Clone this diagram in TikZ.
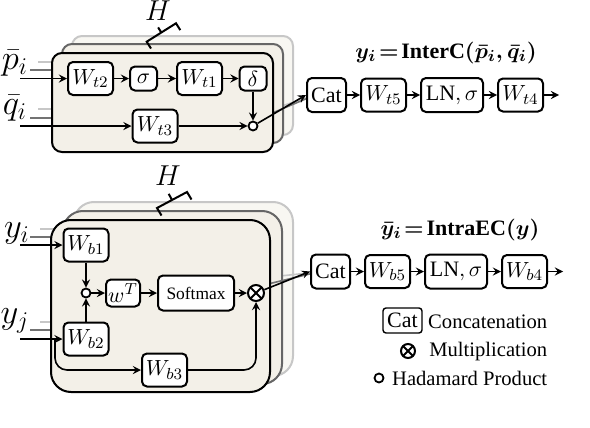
\documentclass[tikz,border=0pt]{standalone}
\usepackage{amsmath}
\usepackage{fontspec}
\setmainfont{Liberation Serif}
\usetikzlibrary{positioning}
\usetikzlibrary{calc}
\definecolor{panelfill}{HTML}{F3F0E8}
\tikzset{
    % Arrow heads as in the other figures
    >=stealth,
%
    % Rounded boxes holding one layer each
    block/.style={draw, line width=1pt, rounded corners=2.5pt, fill=white,
        inner sep=0pt, minimum height=16.5pt},
    wbox/.style={block, minimum width=22.5pt},
    tiny box/.style={block, minimum width=13.5pt, minimum height=12pt},
    cat box/.style={block, minimum width=19.5pt, minimum height=17pt},
%
    % The three stacked heads
    panel/.style={draw, line width=1pt, fill=panelfill},
    mid panel/.style={panel, draw=black!60},
    far panel/.style={panel, draw=black!22, fill=panelfill!55},
    ghost line/.style={line width=0.8pt, draw=black!55},
    far line/.style={line width=0.8pt, draw=black!22},
%
    % Hadamard product and multiplication symbols
    hadamard/.style={circle, draw, line width=0.9pt, fill=white,
        inner sep=0pt, minimum size=4.5pt},
    mult/.style={circle, draw, line width=1pt, fill=white, inner sep=0pt,
        minimum size=8pt,
        path picture={\draw[line width=1pt]
            (path picture bounding box.north west) -- (path picture bounding box.south east)
            (path picture bounding box.north east) -- (path picture bounding box.south west);}},
%
    in label/.style={font=\fontsize{17}{19}\selectfont, inner sep=0pt},
    formula/.style={font=\fontsize{11}{13}\selectfont\bfseries\boldmath},
    legend text/.style={font=\fontsize{10.3}{12}\selectfont, anchor=east, inner sep=0pt}}

\begin{document}
\begin{tikzpicture}[x=0.5pt, y=-0.5pt, thick,
    every node/.append style={font=\fontsize{11}{13}\selectfont}]
\useasboundingbox (0,0) rectangle (590,428);

% Heads of the inter-channel block, back to front
\draw[far panel, rounded corners=5pt] (72,36) rectangle (293,135);
\draw[far line] (38,62) -- (75,62);
\draw[far line] (38,109) -- (75,109);
\draw[far line] (273,109) -- (315,95);
\draw[mid panel, rounded corners=5pt] (62,44) rectangle (283,143);
\draw[ghost line] (30,70) -- (65,70);
\draw[ghost line] (30,118) -- (65,118);
\draw[ghost line] (263,117) -- (315,95);
\draw[panel, rounded corners=5pt] (52,53) rectangle (273,152);

% H bracket over the top heads
\node (top h) at (158,11) {\fontsize{15}{17}\selectfont$H$};
\draw[line width=1pt] (151,48.5) -- (146.7,41.7) -- (176,23.3) -- (180.3,30.1)
    (161.3,32.5) -- (158.1,27.4);

% Front head: inter-channel
\node[in label] (p label) at (15,63) {$\bar{p}_i$};
\node[in label] (q label) at (15,108) {$\bar{q}_i$};
\coordinate (p in) at (20,78.5);
\coordinate (q in) at (20,126);

\node[wbox] (wt2) at (90.5,78.5) {$W_{t2}$};
\node[tiny box] (sigma) at (143.5,78.5) {$\sigma$};
\node[wbox] (wt1) at (199.5,78.5) {$W_{t1}$};
\node[tiny box] (delta) at (253,78.5) {$\delta$};
\node[wbox] (wt3) at (155,126) {$W_{t3}$};
\node[hadamard] (top prod) at (253,126) {};

\draw[->] (p in) -- (wt2);
\draw[->] (wt2) -- (sigma);
\draw[->] (sigma) -- (wt1);
\draw[->] (wt1) -- (delta);
\draw[->] (delta) -- (top prod);
\draw[->] (q in) -- (wt3);
\draw[->] (wt3) -- (top prod);

% Concatenation and output layers
\node[cat box] (top cat) at (326.5,95) {Cat};
\node[wbox, right=6.5pt of top cat] (wt5) {$W_{t5}$};
\node[cat box, minimum width=31pt, right=6.5pt of wt5] (top ln) {$\mathrm{LN},\sigma$};
\node[wbox, right=6.5pt of top ln] (wt4) {$W_{t4}$};
\coordinate[right=7.5pt of wt4] (top out);
\node[formula] (inter label) at (446,53)
    {$y_i\!=\!\mbox{InterC}(\bar{p}_i, \bar{q}_i)$};

\draw[->] (top prod) -- (top cat.west);
\draw[->] (top cat) -- (wt5);
\draw[->] (wt5) -- (top ln);
\draw[->] (top ln) -- (wt4);
\draw[->] (wt4) -- (top out);

% Heads of the intra-channel block, back to front
\draw[far panel, rounded corners=10pt] (74,202) rectangle (293,376);
\draw[far line] (40,229) -- (77,229);
\draw[far line] (40,322) -- (77,322);
\draw[far line] (280,276) -- (318,272);
\draw[mid panel, rounded corners=10pt] (63,211) rectangle (282,384);
\draw[ghost line] (30,237) -- (66,237);
\draw[ghost line] (30,330) -- (66,330);
\draw[ghost line] (268,284) -- (318,272);
\draw[panel, rounded corners=10pt] (51,220) rectangle (270,392);

% H bracket over the bottom heads
\node (bottom h) at (168,176) {\fontsize{15}{17}\selectfont$H$};
\draw[line width=1pt] (161.5,215.5) -- (157,208) -- (187,192) -- (191.5,199.5)
    (172,200) -- (168.7,193.8);

% Front head: intra-channel
\node[in label] (yi label) at (17,233) {$y_i$};
\node[in label] (yj label) at (15,321) {$y_j$};
\coordinate (yi in) at (20,245);
\coordinate (yj in) at (20,339);
\coordinate (split) at (55,339);

\node[wbox] (wb1) at (86,245) {$W_{b1}$};
\node[hadamard] (mid prod) at (86,293) {};
\node[block, minimum width=17pt, minimum height=13.5pt] (wt) at (123,293) {$w^T$};
\node[block, minimum width=38pt, minimum height=17.5pt,
    font=\fontsize{8.7}{10}\selectfont] (softmax) at (196,293) {Softmax};
\node[mult] (times) at (256,293) {};
\node[wbox] (wb2) at (86,339) {$W_{b2}$};
\node[wbox] (wb3) at (164.5,370) {$W_{b3}$};

\draw[->] (yi in) -- (wb1);
\draw[->] (yj in) -- (wb2);
\draw[->] (wb1) -- (mid prod);
\draw[->] (wb2) -- (mid prod);
\draw[->] (mid prod) -- (wt);
\draw[->] (wt) -- (softmax);
\draw[->] (softmax) -- (times);
\draw[->, rounded corners=6pt] (split) |- (wb3);
\draw[->, rounded corners=6pt] (wb3) -| (times);

% Concatenation and output layers
\node[cat box] (bottom cat) at (330.5,271.5) {Cat};
\node[wbox, right=6.5pt of bottom cat] (wb5) {$W_{b5}$};
\node[cat box, minimum width=31pt, right=6.5pt of wb5] (bottom ln) {$\mathrm{LN},\sigma$};
\node[wbox, right=6.5pt of bottom ln] (wb4) {$W_{b4}$};
\coordinate[right=7.5pt of wb4] (bottom out);
\node[formula] (intra label) at (460,230) {$\bar{y}_i\!=\!\mbox{IntraEC}(y)$};

\draw[->] (times) -- (bottom cat.west);
\draw[->] (bottom cat) -- (wb5);
\draw[->] (wb5) -- (bottom ln);
\draw[->] (bottom ln) -- (wb4);
\draw[->] (wb4) -- (bottom out);

% Legend
\node[draw, line width=0.7pt, rounded corners=1.5pt, inner sep=0pt,
    minimum width=19.5pt, minimum height=12.5pt] (cat key) at (402.5,320.5) {Cat};
\node[legend text] (cat text) at (548,322) {Concatenation};
\node[mult, minimum size=7pt] (times key) at (408,351) {};
\node[legend text] (times text) at (548,352) {Multiplication};
\node[hadamard] (prod key) at (379,378) {};
\node[legend text] (prod text) at (548,378) {Hadamard Product};

\end{tikzpicture}
\end{document}
